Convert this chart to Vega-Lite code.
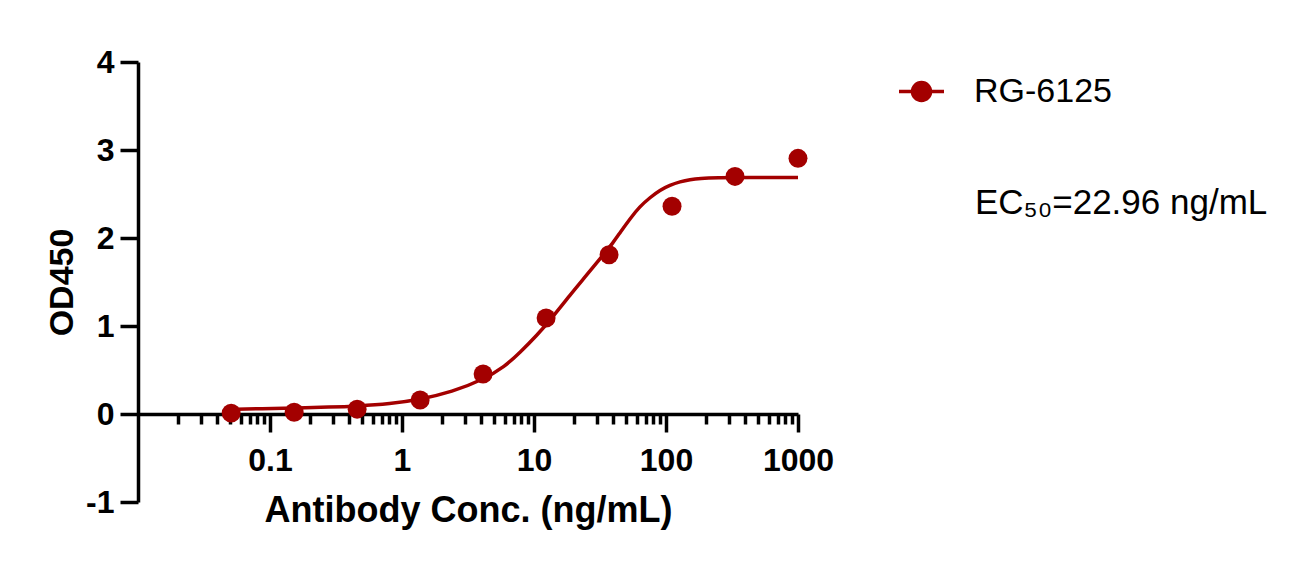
{
  "$schema": "https://vega.github.io/schema/vega-lite/v6.json",
  "width": 660,
  "height": 440,
  "autosize": {"type": "none"},
  "padding": {"left": 138, "top": 62, "right": 511, "bottom": 61},
  "background": "white",
  "config": {"view": {"stroke": null}, "font": "Liberation Sans"},
  "title": {
    "text": "EC₅₀=22.96 ng/mL",
    "anchor": "start",
    "frame": "group",
    "orient": "top",
    "dx": 837,
    "dy": 203,
    "offset": 0,
    "fontSize": 35,
    "fontWeight": "normal",
    "font": "Liberation Sans",
    "color": "black",
    "baseline": "alphabetic"
  },
  "datasets": {
    "curve": [
      {"conc": 0.0508, "od": 0.053},
      {"conc": 0.087, "od": 0.06},
      {"conc": 0.152, "od": 0.068},
      {"conc": 0.285, "od": 0.078},
      {"conc": 0.457, "od": 0.09},
      {"conc": 0.81, "od": 0.115},
      {"conc": 1.372, "od": 0.165},
      {"conc": 2.39, "od": 0.25},
      {"conc": 4.115, "od": 0.39},
      {"conc": 6.03, "od": 0.54},
      {"conc": 7.83, "od": 0.7},
      {"conc": 10.48, "od": 0.89},
      {"conc": 14.0, "od": 1.11},
      {"conc": 18.7, "od": 1.35},
      {"conc": 25.1, "od": 1.58},
      {"conc": 33.5, "od": 1.81},
      {"conc": 39.9, "od": 1.95},
      {"conc": 44.8, "od": 2.06},
      {"conc": 53.4, "od": 2.22},
      {"conc": 63.5, "od": 2.36},
      {"conc": 75.7, "od": 2.46},
      {"conc": 90.1, "od": 2.545},
      {"conc": 107, "od": 2.6},
      {"conc": 128, "od": 2.64},
      {"conc": 152, "od": 2.665},
      {"conc": 181, "od": 2.678},
      {"conc": 242, "od": 2.685},
      {"conc": 400, "od": 2.688},
      {"conc": 1000, "od": 2.688}
    ],
    "points": [
      {"series": "RG-6125", "conc": 0.0508, "od": 0.01},
      {"series": "RG-6125", "conc": 0.1524, "od": 0.02},
      {"series": "RG-6125", "conc": 0.4572, "od": 0.055},
      {"series": "RG-6125", "conc": 1.372, "od": 0.16},
      {"series": "RG-6125", "conc": 4.115, "od": 0.455},
      {"series": "RG-6125", "conc": 12.35, "od": 1.09},
      {"series": "RG-6125", "conc": 37.04, "od": 1.81},
      {"series": "RG-6125", "conc": 111.1, "od": 2.36},
      {"series": "RG-6125", "conc": 333.3, "od": 2.7},
      {"series": "RG-6125", "conc": 1000, "od": 2.905}
    ]
  },
  "encoding": {
    "x": {
      "field": "conc",
      "type": "quantitative",
      "scale": {"type": "log", "domain": [0.01, 1000], "nice": false},
      "axis": {
        "title": "Antibody Conc. (ng/mL)",
        "orient": "bottom",
        "offset": -88,
        "values": [0.02, 0.03, 0.04, 0.05, 0.06, 0.07, 0.08, 0.09, 0.1, 0.2, 0.3, 0.4, 0.5, 0.6, 0.7, 0.8, 0.9, 1, 2, 3, 4, 5, 6, 7, 8, 9, 10, 20, 30, 40, 50, 60, 70, 80, 90, 100, 200, 300, 400, 500, 600, 700, 800, 900, 1000],
        "labelExpr": "indexof([0.1,1,10,100,1000], datum.value) >= 0 ? toString(datum.value) : ''",
        "tickSize": {"condition": {"test": "indexof([0.1,1,10,100,1000], datum.value) >= 0", "value": 18}, "value": 10},
        "tickWidth": 3.5,
        "tickColor": "black",
        "domainColor": "black",
        "domainWidth": 3.5,
        "labelFont": "Liberation Sans",
        "labelFontSize": 32,
        "labelFontWeight": "bold",
        "labelColor": "black",
        "labelPadding": 13,
        "labelOverlap": false,
        "labelFlush": false,
        "titleFont": "Liberation Sans",
        "titleFontSize": 36,
        "titleFontWeight": "bold",
        "titleColor": "black",
        "titlePadding": 17,
        "grid": false
      }
    },
    "y": {
      "field": "od",
      "type": "quantitative",
      "scale": {"domain": [-1, 4], "nice": false, "zero": false},
      "axis": {
        "title": "OD450",
        "values": [-1, 0, 1, 2, 3, 4],
        "labelExpr": "toString(datum.value)",
        "tickSize": 18,
        "tickWidth": 3.5,
        "tickColor": "black",
        "domainColor": "black",
        "domainWidth": 3.5,
        "labelFont": "Liberation Sans",
        "labelFontSize": 32,
        "labelFontWeight": "bold",
        "labelColor": "black",
        "labelPadding": 6,
        "labelFlush": false,
        "titleFont": "Liberation Sans",
        "titleFontSize": 34,
        "titleFontWeight": "bold",
        "titleColor": "black",
        "titlePadding": 6,
        "grid": false
      }
    }
  },
  "layer": [
    {
      "data": {"name": "curve"},
      "mark": {"type": "line", "color": "#a30000", "strokeWidth": 3.5, "interpolate": "basis"}
    },
    {
      "data": {"name": "points"},
      "mark": {"type": "point", "filled": true, "shape": "circle", "size": 360, "opacity": 1},
      "encoding": {
        "color": {
          "field": "series",
          "type": "nominal",
          "scale": {"range": ["#a30000"]},
          "legend": {
            "orient": "none",
            "legendX": 759,
            "legendY": 5,
            "title": null,
            "symbolType": "M-1,0H1M-0.4,0A0.4,0.4 0 1,0 0.4,0A0.4,0.4 0 1,0 -0.4,0Z",
            "symbolSize": 2025,
            "symbolStrokeWidth": 3.5,
            "symbolFillColor": "#a30000",
            "symbolStrokeColor": "#a30000",
            "symbolOpacity": 1,
            "labelFont": "Liberation Sans",
            "labelFontSize": 34,
            "labelColor": "black",
            "labelOffset": 28
          }
        }
      }
    }
  ]
}
